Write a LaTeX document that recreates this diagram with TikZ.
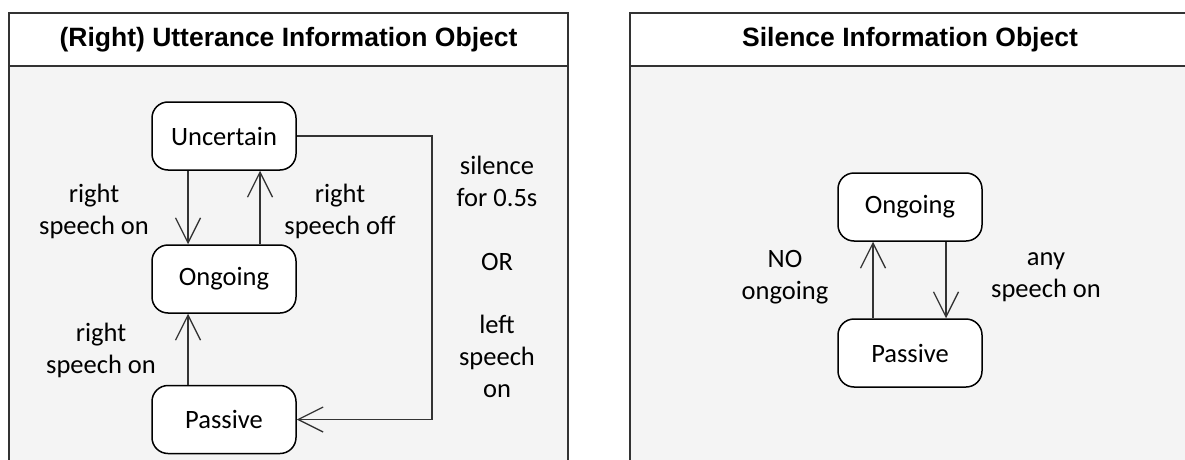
\documentclass[tikz,border=0pt]{standalone}
\usepackage{fontspec}
\setmainfont{Carlito}
\newfontfamily\titlefont{Liberation Sans}
\usetikzlibrary{arrows.meta}
\definecolor{panelbg}{HTML}{F4F4F4}
\definecolor{edge}{HTML}{333333}
\begin{document}
\begin{tikzpicture}[x=1pt,y=-1pt,
  frame/.style={draw=edge,line width=1.4pt},
  header/.style={font=\titlefont\bfseries\fontsize{26.5}{30}\selectfont},
  state/.style={draw=black,fill=white,line width=1.5pt,rounded corners=16pt,
    minimum width=144pt,minimum height=68pt,inner sep=0pt,
    font=\fontsize{26.5}{32}\selectfont},
  lbl/.style={align=center,inner sep=0pt,font=\fontsize{26.5}{32}\selectfont},
  trans/.style={draw=edge,line width=1.3pt,
    -{Straight Barb[length=25pt,width=25pt,line width=1.3pt]}}]
\useasboundingbox (0,0) rectangle (1185,460);

% left panel: utterance object
\filldraw[frame,fill=panelbg] (9,13) rectangle (568,475);
\filldraw[frame,fill=white] (9,13) rectangle (568,66);
\node[header] (ltitle) at (288.5,39.5) {(Right) Utterance Information Object};

\node[state] (unc) at (224,136) {Uncertain};
\node[state] (ong) at (224,279) {Ongoing};
\node[state] (pas) at (224,419.5) {Passive};

\draw[trans] ([xshift=-36pt]unc.south) -- ([xshift=-36pt]ong.north);
\draw[trans] ([xshift=36pt]ong.north) -- ([xshift=36pt]unc.south);
\draw[trans] ([xshift=-36pt]pas.north) -- ([xshift=-36pt]ong.south);
\coordinate (c1) at (432,136);
\coordinate (c2) at (432,419.5);
\draw[trans] (unc.east) -- (c1) -- (c2) -- (pas.east);

\node[lbl] (l1) at (94,211) {right\\speech on};
\node[lbl] (l2) at (340,211) {right\\speech off};
\node[lbl] (l3) at (101,350) {right\\speech on};
\node[lbl] (l4) at (497,181) {silence\\for 0.5s};
\node[lbl] (l5) at (497,262) {OR};
\node[lbl] (l6) at (497,356) {left\\speech\\on};

% right panel: silence object
\filldraw[frame,fill=panelbg] (630,13) rectangle (1192,475);
\filldraw[frame,fill=white] (630,13) rectangle (1192,66);
\node[header] (rtitle) at (910,39.5) {Silence Information Object};

\node[state] (song) at (910,207) {Ongoing};
\node[state] (spas) at (910,353) {Passive};
\draw[trans] ([xshift=-37pt]spas.north) -- ([xshift=-37pt]song.south);
\draw[trans] ([xshift=36pt]song.south) -- ([xshift=36pt]spas.north);

\node[lbl] (l7) at (785,277) {NO\\ongoing};
\node[lbl] (l8) at (1046,277) {any\\speech on};
\end{tikzpicture}
\end{document}
